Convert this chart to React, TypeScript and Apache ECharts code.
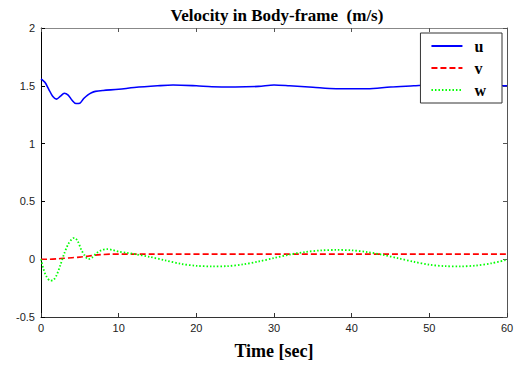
import React, { useEffect, useRef } from "react";
import * as echarts from "echarts";

const xTicks = [0, 10, 20, 30, 40, 50, 60];
const yTicks = [-0.5, 0, 0.5, 1, 1.5, 2];

const uData: [number, number][] = [
  [0, 1.56], [0.5, 1.53], [1, 1.47], [1.5, 1.41], [2, 1.385], [2.5, 1.41], [3, 1.435],
  [3.5, 1.42], [4, 1.375], [4.5, 1.347], [5, 1.35], [5.5, 1.39], [6, 1.42], [6.5, 1.44],
  [7, 1.452], [8, 1.46], [10, 1.47], [12, 1.485], [15, 1.5], [17, 1.507], [20, 1.5],
  [22, 1.492], [25, 1.49], [28, 1.495], [30, 1.507], [32, 1.5], [35, 1.487], [38, 1.475],
  [42, 1.475], [45, 1.49], [48, 1.5], [50, 1.507], [55, 1.5], [60, 1.5],
];

const vData: [number, number][] = [
  [0, 0], [1, 0], [2, 0.003], [3, 0.008], [4, 0.013], [5, 0.018], [6, 0.026],
  [7, 0.035], [8, 0.041], [9, 0.044], [60, 0.044],
];

const wData: [number, number][] = [
  [0, 0], [0.3, -0.08], [0.7, -0.15], [1.2, -0.185], [1.6, -0.18], [2, -0.14],
  [2.5, -0.05], [3, 0.05], [3.5, 0.13], [4, 0.175], [4.3, 0.185], [4.7, 0.16],
  [5.2, 0.08], [5.6, 0.035], [6.1, 0.0], [6.6, 0.015], [7.2, 0.055], [7.8, 0.078],
  [8.5, 0.087], [9.2, 0.08], [10, 0.065], [11, 0.055], [12, 0.045], [14, 0.02],
  [16, -0.01], [18, -0.04], [20, -0.057], [22, -0.062], [24, -0.06], [26, -0.045],
  [28, -0.02], [30, 0.01], [32, 0.04], [34, 0.062], [36, 0.076], [38, 0.08],
  [40, 0.077], [42, 0.062], [44, 0.038], [46, 0.008], [48, -0.022], [50, -0.048],
  [52, -0.06], [54, -0.062], [56, -0.055], [58, -0.035], [60, -0.005],
];

export default function App() {
  const ref = useRef<HTMLDivElement>(null);
  useEffect(() => {
    if (!ref.current) return;
    const chart = echarts.init(ref.current, undefined, { renderer: "svg" });
    const tickLabel = {
      fontFamily: "Liberation Sans",
      fontSize: 11,
      color: "#222",
    };
    const tick = (c: string) => ({ show: true, inside: true, length: 4, lineStyle: { color: c } });
    const line = (c: string) => ({ show: true, onZero: false, lineStyle: { color: c, width: 1 } });
    chart.setOption({
      animation: false,
      backgroundColor: "#fff",
      title: {
        text: "Velocity in Body-frame  (m/s)",
        left: 272,
        textAlign: "center",
        top: 2,
        textStyle: {
          fontFamily: "Liberation Serif",
          fontWeight: "bold",
          fontSize: 17,
          color: "#000",
        },
      },
      grid: { left: 41, right: 19, top: 28, bottom: 43, containLabel: false },
      legend: {
        orient: "vertical",
        right: 24,
        top: 33,
        backgroundColor: "#fff",
        borderColor: "#333",
        borderWidth: 1,
        borderRadius: 0,
        padding: [5, 16, 5, 10],
        itemGap: 6,
        itemWidth: 31,
        itemHeight: 12,
        itemStyle: { color: "transparent", borderWidth: 0, opacity: 0 },
        textStyle: {
          fontFamily: "Liberation Serif",
          fontWeight: "bold",
          fontSize: 16,
          lineHeight: 12,
          color: "#000",
          padding: [0, 0, 0, 7],
        },
        data: ["u", "v", "w"],
      },
      xAxis: [
        {
          type: "value",
          min: 0,
          max: 60,
          interval: 10,
          name: "Time [sec]",
          nameLocation: "middle",
          nameGap: 25,
          nameTextStyle: {
            fontFamily: "Liberation Serif",
            fontWeight: "bold",
            fontSize: 18,
            color: "#000",
          },
          axisLine: line("#333"),
          axisTick: tick("#333"),
          axisLabel: { ...tickLabel, margin: 5, formatter: (v: number) => (xTicks.includes(v) ? String(v) : "") },
          splitLine: { show: false },
        },
        {
          type: "value",
          position: "top",
          min: 0,
          max: 60,
          interval: 10,
          axisLine: line("#888"),
          axisTick: tick("#555"),
          axisLabel: { show: false },
          splitLine: { show: false },
        },
      ],
      yAxis: [
        {
          type: "value",
          min: -0.5,
          max: 2,
          interval: 0.5,
          axisLine: line("#000"),
          axisTick: tick("#000"),
          axisLabel: { ...tickLabel, margin: 6, formatter: (v: number) => (yTicks.includes(v) ? String(v) : "") },
          splitLine: { show: false },
        },
        {
          type: "value",
          position: "right",
          min: -0.5,
          max: 2,
          interval: 0.5,
          axisLine: line("#555"),
          axisTick: tick("#555"),
          axisLabel: { show: false },
          splitLine: { show: false },
        },
      ],
      series: [
        {
          name: "u",
          type: "line",
          data: uData,
          smooth: 0.3,
          showSymbol: false,
          symbol: "none",
          color: "#0000ff",
          lineStyle: { color: "#0000ff", width: 1.6, type: "solid" },
          z: 3,
        },
        {
          name: "v",
          type: "line",
          data: vData,
          smooth: 0.2,
          showSymbol: false,
          symbol: "none",
          color: "#ff0000",
          lineStyle: { color: "#ff0000", width: 1.6, type: [6, 3] },
          z: 2,
        },
        {
          name: "w",
          type: "line",
          data: wData,
          smooth: 0.3,
          showSymbol: false,
          symbol: "none",
          color: "#00ff00",
          lineStyle: { color: "#00ff00", width: 1.8, type: [1.5, 2] },
          z: 2,
        },
      ],
    });
    return () => chart.dispose();
  }, []);
  return <div ref={ref} style={{ width: 526, height: 365, position: "absolute", left: 0, top: 0 }} />;
}
